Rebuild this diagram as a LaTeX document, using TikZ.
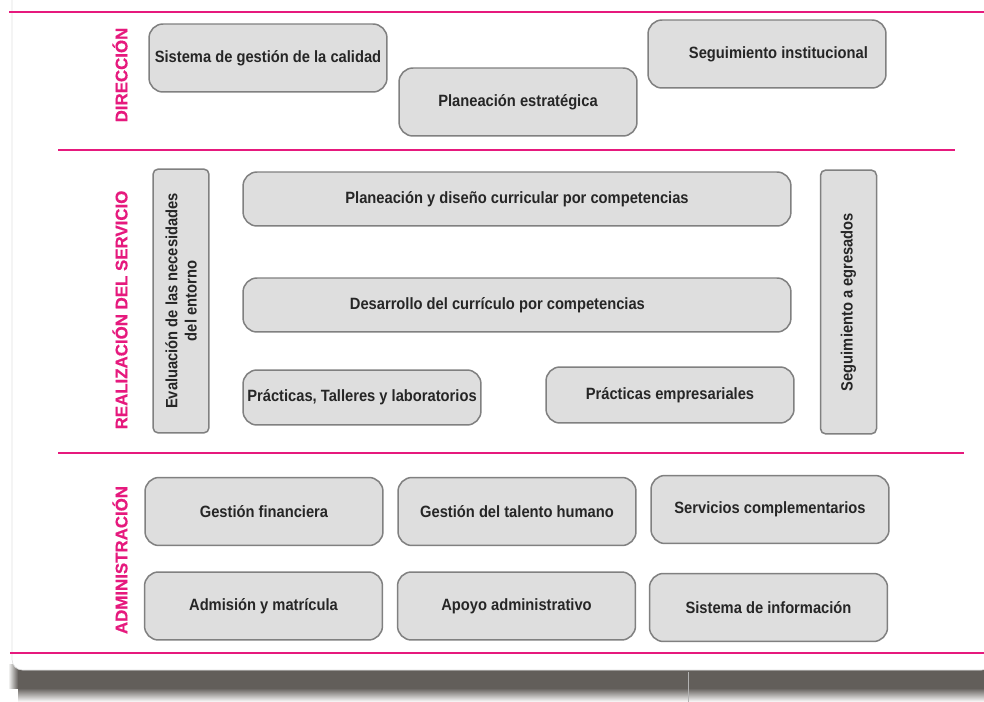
\documentclass[tikz,border=0pt]{standalone}
\usepackage{fontspec}
\setmainfont{Liberation Sans}
\newfontfamily\narrowfont[FakeStretch=0.9]{Liberation Sans}
\newfontfamily\titulofont[BoldFeatures={FakeBold=0.6}]{Liberation Sans}
\definecolor{rosa}{RGB}{230,25,125}
\definecolor{cajagris}{RGB}{222,222,222}
\definecolor{bordegris}{RGB}{128,128,128}
\definecolor{sombra}{RGB}{98,94,90}

\begin{document}
\begin{tikzpicture}[x=0.02cm, y=-0.02cm,
    caja/.style={draw=bordegris, fill=cajagris, line width=0.85pt, rounded corners=8pt,
        minimum width=4.76cm, minimum height=1.36cm, inner sep=2pt,
        font=\narrowfont\bfseries\fontsize{9.3}{11}\selectfont, text=black!85},
    cajav/.style={caja, rounded corners=3pt, rotate=90, minimum width=5.28cm,
        minimum height=1.12cm, align=center},
    franja/.style={draw=rosa, line width=1.6pt},
    titulo/.style={rotate=90, text=rosa, font=\titulofont\bfseries\fontsize{9.6}{11}\selectfont}]
    \useasboundingbox (0,0) rectangle (984,702);
    \clip (0,0) rectangle (984,702);

    % Shadow under the card
    \fill[sombra] (18,664) rectangle (984,688);
    \shade[top color=sombra, bottom color=white] (18,688) rectangle (984,702);
    \shade[left color=white, right color=sombra] (8,664) rectangle (18,688);
    \draw[black!30, line width=0.4pt] (688,672) -- (688,702);

    % Card
    \draw[draw=black!12, fill=white, rounded corners=6pt] (12,-20) rectangle (992,670);

    % Bands
    \draw[franja] (9,12) -- (984,12);
    \draw[franja] (58,150) -- (955,150);
    \draw[franja] (58,453) -- (964,453);
    \draw[franja] (10,653) -- (984,653);

    % Direccion
    \node[titulo] (direccion) at (120,75) {DIRECCIÓN};
    \node[caja] (calidad) at (268,58) {Sistema de gestión de la calidad};
    \node[caja] (institucional) at (767,54) {\hspace*{1.4em}Seguimiento institucional};
    \node[caja] (planeacion) at (518,102) {Planeación estratégica};

    % Realizacion del servicio
    \node[titulo] (realizacion) at (120,310) {REALIZACIÓN DEL SERVICIO};
    \node[cajav] (evaluacion) at (181,301) {Evaluación de las necesidades\\del entorno};
    \node[caja, minimum width=10.96cm, minimum height=1.08cm] (curricular) at (517,199)
        {Planeación y diseño curricular por competencias};
    \node[caja, minimum width=10.96cm, minimum height=1.08cm] (desarrollo) at (517,305)
        {Desarrollo del currículo por competencias\hspace*{2.4em}};
    \node[caja, minimum height=1.1cm] (talleres) at (362,397.5) {Prácticas, Talleres y laboratorios};
    \node[caja, minimum width=4.96cm, minimum height=1.12cm] (empresariales) at (670,395)
        {Prácticas empresariales};
    \node[cajav] (egresados) at (848.5,302) {Seguimiento a egresados};

    % Administracion
    \node[titulo] (administracion) at (120,560) {ADMINISTRACIÓN};
    \node[caja] (financiera) at (264,511.5) {Gestión financiera};
    \node[caja] (talento) at (517,511.5) {Gestión del talento humano};
    \node[caja] (servicios) at (770,509.5) {Servicios complementarios};
    \node[caja] (admision) at (263.5,606) {Admisión y matrícula};
    \node[caja] (apoyo) at (516.5,606) {Apoyo administrativo};
    \node[caja] (informacion) at (768.5,607.5) {Sistema de información};
\end{tikzpicture}
\end{document}
